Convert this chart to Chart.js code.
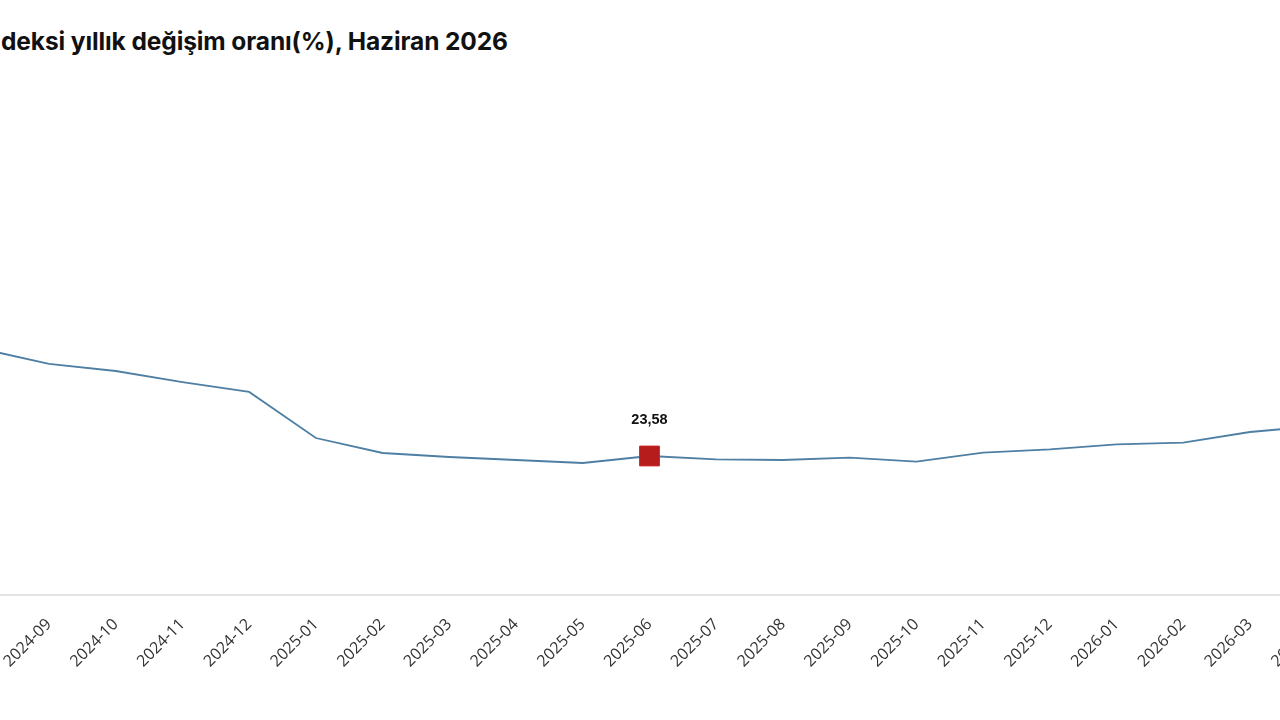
<!DOCTYPE html>
<html><head><meta charset="utf-8">
<script src="https://cdn.jsdelivr.net/npm/chart.js@4"></script>
<style>
html,body{margin:0;padding:0;width:1280px;height:720px;overflow:hidden;background:#fff;}
#title{position:absolute;left:1px;top:26px;font:bold 24.5px Inter, Roboto, sans-serif;color:#111;white-space:nowrap;letter-spacing:-0.1px;}
#wrap{position:absolute;left:-100px;top:0;width:1500px;height:720px;}
</style></head><body>
<div id="title">deksi yıllık değişim oranı(%), Haziran 2026</div>
<div id="wrap"><canvas id="c" width="1500" height="720"></canvas></div>
<script>
const categories = ['2024-08','2024-09','2024-10','2024-11','2024-12','2025-01','2025-02','2025-03','2025-04','2025-05','2025-06','2025-07','2025-08','2025-09','2025-10','2025-11','2025-12','2026-01','2026-02','2026-03','2026-04'];
const values = [41.73,39.19,38.00,36.13,34.44,26.63,24.09,23.41,22.90,22.39,23.58,23.02,22.90,23.29,22.61,24.14,24.72,25.56,25.84,27.65,28.67];
const highlightCategory = '2025-06';
const highlightLabel = '23,58';
const yMin = 0, yMax = 80;

const hi = categories.indexOf(highlightCategory);

const labelPlugin = {
  id: 'hiLabel',
  afterDatasetsDraw(chart) {
    const pt = chart.getDatasetMeta(0).data[hi];
    const ctx = chart.ctx;
    ctx.save();
    ctx.font = 'bold 14.5px "Liberation Sans", Arial, sans-serif';
    ctx.fillStyle = '#111';
    ctx.textAlign = 'center';
    ctx.textBaseline = 'middle';
    ctx.fillText(highlightLabel, pt.x, pt.y - 36);
    ctx.restore();
  }
};

new Chart(document.getElementById('c'), {
  type: 'line',
  data: {
    labels: categories,
    datasets: [{
      data: values,
      borderColor: '#4f7fa3',
      borderWidth: 1.8,
      tension: 0,
      pointStyle: 'rect',
      pointRadius: ctx => ctx.dataIndex === hi ? 14 : 0,
      pointHoverRadius: ctx => ctx.dataIndex === hi ? 14 : 0,
      pointBackgroundColor: '#b71c1c',
      pointBorderColor: '#c62828',
      pointBorderWidth: 1
    }]
  },
  options: {
    responsive: false,
    animation: false,
    events: [],
    layout: { padding: { left: 82.28, right: 83.28, top: 123.4, bottom: 25 } },
    plugins: { legend: { display: false }, tooltip: { enabled: false }, title: { display: false } },
    scales: {
      x: {
        grid: { display: true, drawOnChartArea: false, drawTicks: false },
        border: { display: true, color: '#e3e3e3', width: 2 },
        ticks: {
          autoSkip: false, minRotation: 45, maxRotation: 45, padding: 20,
          color: '#333', font: { family: '"Open Sans", "Noto Sans", sans-serif', size: 16 }
        },
        afterFit: s => { s.height = 100; s.paddingLeft = 0; s.paddingRight = 0; }
      },
      y: { display: false, min: yMin, max: yMax }
    }
  },
  plugins: [labelPlugin]
});
</script>
</body></html>
